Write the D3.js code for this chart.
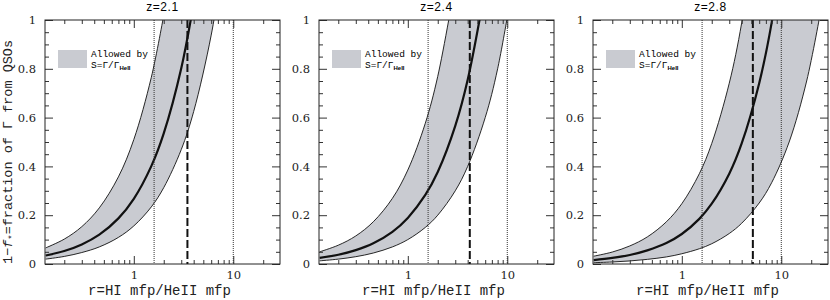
<!DOCTYPE html>
<html>
<head>
<meta charset="utf-8">
<script src="https://cdn.jsdelivr.net/npm/d3@7"></script>
<style>
  body { margin: 0; background: #fff; }
  .tick text { font-family: "DejaVu Serif", serif; font-size: 11.5px; fill: #222; }
  .tick line { stroke: #333; }
  .domain { stroke: none; }
</style>
</head>
<body>
<script>
// values
var titles = ['z=2.1', 'z=2.4', 'z=2.8']
var rGrid = [0.13, 0.2, 0.3, 0.45, 0.7, 1, 1.5, 2, 3, 4, 6, 8, 12, 18, 25]

// upper edge, middle line, lower edge of the allowed band, one array per panel
var high21 = [0.066, 0.102, 0.153, 0.23, 0.357, 0.51, 0.765, 1.02]
var mid21  = [0.035, 0.053, 0.080, 0.120, 0.187, 0.267, 0.401, 0.535, 0.802, 1.07]
var low21  = [0.020, 0.031, 0.047, 0.070, 0.109, 0.156, 0.234, 0.313, 0.469, 0.625, 0.938, 1.25]

var high24 = [0.05, 0.077, 0.115, 0.173, 0.269, 0.385, 0.577, 0.769, 1.15]
var mid24  = [0.025, 0.038, 0.057, 0.085, 0.132, 0.189, 0.283, 0.377, 0.566, 0.755, 1.13]
var low24  = [0.013, 0.02, 0.03, 0.045, 0.07, 0.1, 0.15, 0.2, 0.3, 0.4, 0.6, 0.8, 1.2]

var high28 = [0.032, 0.049, 0.074, 0.111, 0.173, 0.247, 0.370, 0.494, 0.741, 0.988, 1.48]
var mid28  = [0.016, 0.025, 0.037, 0.056, 0.086, 0.123, 0.185, 0.247, 0.370, 0.494, 0.741, 0.988, 1.48]
var low28  = [0.0054, 0.0083, 0.0125, 0.019, 0.029, 0.042, 0.0625, 0.083, 0.125, 0.167, 0.25, 0.333, 0.5, 0.75, 1.04]

var rDashed = [3.46, 4.2, 5.18]
var rDotted = [1.6, 10]

var xMajor = [1, 10]
var xMinor = [0.2, 0.3, 0.4, 0.5, 0.6, 0.7, 0.8, 0.9, 2, 3, 4, 5, 6, 7, 8, 9, 20]
var yMajor = [0, 0.2, 0.4, 0.6, 0.8, 1]
var yMinor = [0.05, 0.1, 0.15, 0.25, 0.3, 0.35, 0.45, 0.5, 0.55, 0.65, 0.7, 0.75, 0.85, 0.9, 0.95]

var bands = [
  {high: high21, mid: mid21, low: low21},
  {high: high24, mid: mid24, low: low24},
  {high: high28, mid: mid28, low: low28}
]

var settings = {
  lefts: [45, 319, 593],
  top: 20,
  width: 235,
  height: 244,
  fill: '#c9cbd1'
}

var svg = d3.select('body').append('svg')
    .attr('width', 830).attr('height', 300)

var x = d3.scaleLog().domain([0.128, 29.5]).range([0, settings.width])
var y = d3.scaleLinear().domain([0, 1]).range([settings.height, 0])

var fmtY = function(d){ return d === 0 ? '0' : d === 1 ? '1' : d.toFixed(1) }

var pts = function(vals){ return vals.map(function(v, i){ return [rGrid[i], v] }) }

var line = d3.line()
    .x(function(d){ return x(d[0]) })
    .y(function(d){ return y(d[1]) })
    .curve(d3.curveCatmullRom)

bands.forEach(function(b, i) {
  var g = svg.append('g')
      .attr('transform', 'translate(' + settings.lefts[i] + ',' + settings.top + ')')

  g.append('clipPath').attr('id', 'clip' + i)
    .append('rect').attr('width', settings.width).attr('height', settings.height)

  var plot = g.append('g').attr('clip-path', 'url(#clip' + i + ')')

  // band fill: upper edge left to right, then lower edge back
  var upPath = line(pts(b.high))
  var lowPath = line(pts(b.low).reverse())
  plot.append('path')
      .attr('d', upPath + 'L' + lowPath.slice(1) + 'Z')
      .attr('fill', settings.fill)
      .attr('stroke', 'none')

  plot.append('path').attr('d', upPath)
      .attr('fill', 'none').attr('stroke', '#111').attr('stroke-width', 0.9)
  plot.append('path').attr('d', line(pts(b.low)))
      .attr('fill', 'none').attr('stroke', '#111').attr('stroke-width', 0.9)
  plot.append('path').attr('d', line(pts(b.mid)))
      .attr('fill', 'none').attr('stroke', '#111').attr('stroke-width', 2.2)

  rDotted.forEach(function(r) {
    plot.append('line')
        .attr('x1', x(r)).attr('x2', x(r))
        .attr('y1', 0).attr('y2', settings.height)
        .attr('stroke', '#333').attr('stroke-width', 1)
        .attr('stroke-dasharray', '1,1')
  })

  plot.append('line')
      .attr('x1', x(rDashed[i])).attr('x2', x(rDashed[i]))
      .attr('y1', 0).attr('y2', settings.height)
      .attr('stroke', '#111').attr('stroke-width', 2)
      .attr('stroke-dasharray', '8,3')

  // axes, ticks pointing inward on all four sides
  g.append('g').attr('transform', 'translate(0,' + settings.height + ')')
      .call(d3.axisBottom(x).tickValues(xMinor).tickSize(-4).tickFormat(''))
  g.append('g').attr('transform', 'translate(0,' + settings.height + ')')
      .call(d3.axisBottom(x).tickValues(xMajor).tickSize(-8).tickPadding(7).tickFormat(d3.format('d')))
  g.append('g')
      .call(d3.axisTop(x).tickValues(xMinor).tickSize(-4).tickFormat(''))
  g.append('g')
      .call(d3.axisTop(x).tickValues(xMajor).tickSize(-8).tickFormat(''))

  g.append('g')
      .call(d3.axisLeft(y).tickValues(yMinor).tickSize(-4).tickFormat(''))
  g.append('g')
      .call(d3.axisLeft(y).tickValues(yMajor).tickSize(-8).tickPadding(9).tickFormat(fmtY))
  g.append('g').attr('transform', 'translate(' + settings.width + ',0)')
      .call(d3.axisRight(y).tickValues(yMinor).tickSize(-4).tickFormat(''))
  g.append('g').attr('transform', 'translate(' + settings.width + ',0)')
      .call(d3.axisRight(y).tickValues(yMajor).tickSize(-8).tickFormat(''))

  g.append('rect')
      .attr('width', settings.width).attr('height', settings.height)
      .attr('fill', 'none').attr('stroke', '#222').attr('stroke-width', 1)

  // title
  g.append('text')
      .attr('x', settings.width / 2).attr('y', -9)
      .attr('text-anchor', 'middle')
      .style('font-family', '"Liberation Sans", sans-serif')
      .style('font-size', '12px')
      .style('letter-spacing', '0.6px')
      .text(titles[i])

  // x label
  g.append('text')
      .attr('x', settings.width / 2 - 3).attr('y', settings.height + 31)
      .attr('text-anchor', 'middle')
      .style('font-family', '"Liberation Mono", monospace')
      .style('font-size', '14px')
      .attr('fill', '#222')
      .text('r=HI mfp/HeII mfp')

  // legend
  g.append('rect')
      .attr('x', 13).attr('y', 30).attr('width', 29).attr('height', 18)
      .attr('fill', settings.fill)
  g.append('text')
      .attr('x', 46).attr('y', 37)
      .style('font-family', '"Liberation Mono", monospace')
      .style('font-size', '9.5px')
      .text('Allowed by')
  var s = g.append('text')
      .attr('x', 46).attr('y', 48)
      .style('font-family', '"Liberation Mono", monospace')
      .style('font-size', '9.5px')
  s.append('tspan').text('S=Γ/Γ')
  s.append('tspan').attr('dy', 2).style('font-size', '6px').style('font-weight', 'bold')
      .style('font-family', '"Liberation Sans", sans-serif').text('HeII')
})

// y label, first panel only
var yl = svg.append('text')
    .attr('transform', 'translate(12,' + (settings.top + settings.height / 2 + 10) + ') rotate(-90)')
    .attr('text-anchor', 'middle')
    .style('font-family', '"Liberation Mono", monospace')
    .style('font-size', '13.5px')
    .attr('fill', '#222')
yl.append('tspan').text('1−')
yl.append('tspan').style('font-style', 'italic').text('f')
yl.append('tspan').attr('dy', 3).style('font-size', '9px').text('*')
yl.append('tspan').attr('dy', -3).text('=fraction of Γ from QSOs')
</script>
</body>
</html>
